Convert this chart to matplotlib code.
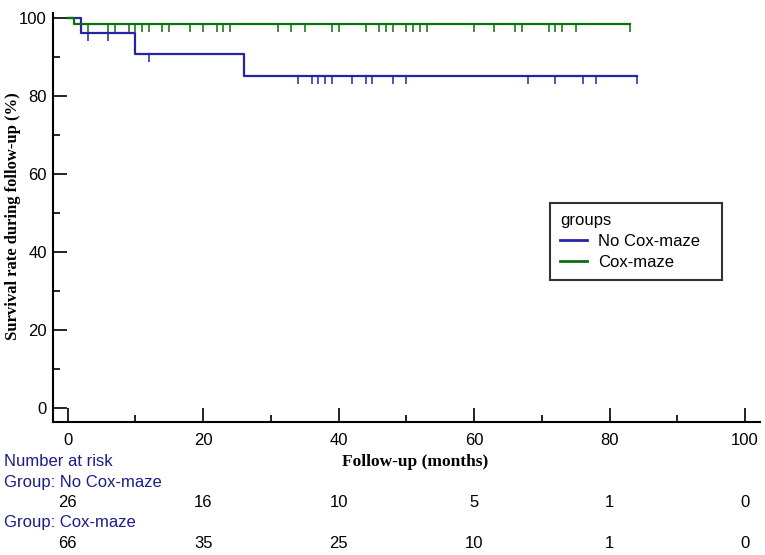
import matplotlib.pyplot as plt
import matplotlib.lines as mlines
from matplotlib.transforms import blended_transform_factory

# Kaplan-Meier steps
no_cox_times = [0, 2, 10, 26, 84]
no_cox_surv = [100, 96.2, 90.8, 85.2, 85.2]
no_cox_censored = [3, 6, 12, 34, 36, 37, 38, 39, 42, 44, 45, 48, 50, 68, 72, 76, 78, 84]

cox_times = [0, 1, 83]
cox_surv = [100, 98.5, 98.5]
cox_censored = [3, 6, 7, 9, 10, 11, 12, 14, 15, 18, 20, 22, 23, 24, 31, 33, 35, 39, 40,
                44, 46, 47, 48, 50, 51, 52, 53, 60, 63, 66, 67, 71, 72, 73, 75, 83]

# number at risk table
risk_times = [0, 20, 40, 60, 80, 100]
risk_no_cox = [26, 16, 10, 5, 1, 0]
risk_cox = [66, 35, 25, 10, 1, 0]

BLUE = '#2424a4'
GREEN = '#0b700b'
NAVY = '#1c1c8a'
SANS = 'Liberation Sans'
SERIF = 'Liberation Serif'


def step_value(times, surv, t):
    val = surv[0]
    for ti, si in zip(times, surv):
        if ti <= t:
            val = si
    return val


fig = plt.figure(figsize=(7.65, 5.55), dpi=100)
ax = fig.add_axes([0.0689, 0.2402, 0.9246, 0.7359])

for times, surv, cens, color, label in [
    (no_cox_times, no_cox_surv, no_cox_censored, BLUE, 'No Cox-maze'),
    (cox_times, cox_surv, cox_censored, GREEN, 'Cox-maze'),
]:
    ax.step(times, surv, where='post', color=color, linewidth=1.6, label=label)
    ax.plot(cens, [step_value(times, surv, c) for c in cens], linestyle='none',
            marker=mlines.TICKDOWN, markersize=5.5, markeredgewidth=1.1, color=color)

ax.set_xlim(-2.2, 102.2)
ax.set_ylim(-3.44, 101.3)
ax.set_xticks(range(0, 101, 20))
ax.set_xticks(range(10, 100, 20), minor=True)
ax.set_yticks(range(0, 101, 20))
ax.set_yticks(range(10, 100, 20), minor=True)

for side in ['top', 'right']:
    ax.spines[side].set_visible(False)
for side in ['left', 'bottom']:
    ax.spines[side].set_linewidth(1.5)

ax.tick_params(axis='both', which='major', direction='in', length=10, width=1.2,
               labelsize=12)
ax.tick_params(axis='both', which='minor', direction='in', length=5, width=1.2)
ax.tick_params(axis='x', which='major', pad=8.4)
ax.tick_params(axis='y', which='major', pad=4.3)
for lbl in ax.get_xticklabels() + ax.get_yticklabels():
    lbl.set_fontfamily(SANS)

# axis titles placed by hand, like the reference
fig.text(13.5 / 765, 1 - 216 / 555, 'Survival rate during follow-up (%)', rotation=90,
         fontfamily=SERIF, fontweight='bold', fontsize=12, ha='center', va='center')
fig.text(415 / 765, 1 - 462 / 555, 'Follow-up (months)', fontfamily=SERIF,
         fontweight='bold', fontsize=12.5, ha='center', va='center')

leg = ax.legend(title='groups', loc='upper left',
                bbox_to_anchor=(550 / 765, 1 - 278 / 555, 172 / 765, 75 / 555),
                bbox_transform=fig.transFigure, mode='expand',
                prop={'family': SANS, 'size': 12},
                title_fontproperties={'family': SANS, 'size': 12}, alignment='left',
                frameon=True, fancybox=False, edgecolor='black', handlelength=1.6,
                handletextpad=0.7, labelspacing=0.35, borderpad=0.6, borderaxespad=0)
leg.get_frame().set_linewidth(1.5)
for h in leg.get_lines():
    h.set_linewidth(2)

# number at risk block
trans = blended_transform_factory(ax.transData, fig.transFigure)
fig.text(0.005, 1 - 461 / 555, 'Number at risk', color=NAVY, fontfamily=SANS,
         fontsize=12, va='center')
fig.text(0.005, 1 - 482 / 555, 'Group: No Cox-maze', color=NAVY, fontfamily=SANS,
         fontsize=12, va='center')
fig.text(0.005, 1 - 523 / 555, 'Group: Cox-maze', color=NAVY, fontfamily=SANS,
         fontsize=12, va='center')
for t, n1, n2 in zip(risk_times, risk_no_cox, risk_cox):
    ax.text(t, 1 - 502.5 / 555, str(n1), transform=trans, ha='center', va='center',
            fontfamily=SANS, fontsize=12)
    ax.text(t, 1 - 544 / 555, str(n2), transform=trans, ha='center', va='center',
            fontfamily=SANS, fontsize=12)

fig.savefig('out.png', dpi=100)
plt.close(fig)
